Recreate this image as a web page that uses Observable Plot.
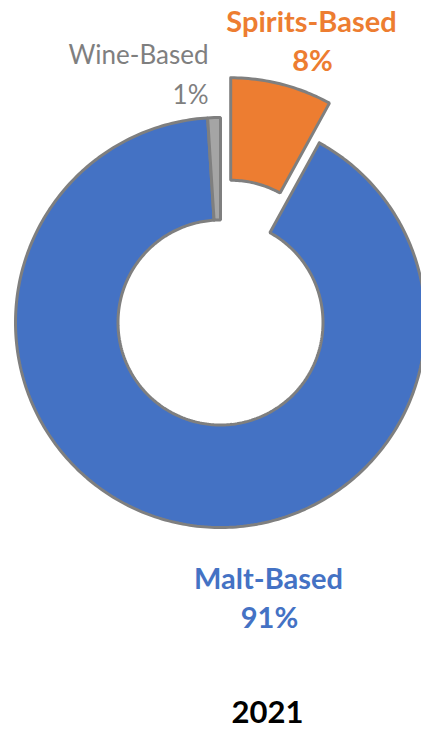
<!DOCTYPE html>
<html>
<head>
<meta charset="utf-8">
<script src="https://cdn.jsdelivr.net/npm/d3@7"></script>
<script src="https://cdn.jsdelivr.net/npm/@observablehq/plot@0.6"></script>
<style>
  html, body { margin: 0; padding: 0; background: #fff; }
  #chart svg { display: block; }
</style>
</head>
<body>
<div id="chart"></div>
<script>
// ---- data ----
const categories = ["Spirits-Based", "Malt-Based", "Wine-Based"];
const shares = [8, 91, 1];            // percent
const exploded = [true, false, false];
const year = "2021";

// ---- styling ----
const colors = ["#ED7D31", "#4472C4", "#A5A5A5"];
const labelColors = ["#ED7D31", "#4472C4", "#7F7F7F"];
const W = 421, H = 731;
const cxPx = 220, cyPx = 322, Rpx = 205;   // layout of the ring in pixels
const inner = 0.5, explode = 0.2;

// build slice polygons in unit (radius = 1) coordinates
const total = d3.sum(shares);
let start = 0;
const pts = [];
categories.forEach((c, i) => {
  const a0 = start / total * 2 * Math.PI;
  const a1 = (start + shares[i]) / total * 2 * Math.PI;
  start += shares[i];
  const mid = (a0 + a1) / 2;
  const ox = exploded[i] ? explode * Math.sin(mid) : 0;
  const oy = exploded[i] ? explode * Math.cos(mid) : 0;
  const n = Math.max(4, Math.ceil((a1 - a0) / (Math.PI / 180)));
  const poly = [];
  for (let k = 0; k <= n; k++) {
    const a = a0 + (a1 - a0) * k / n;
    poly.push([Math.sin(a), Math.cos(a)]);
  }
  for (let k = n; k >= 0; k--) {
    const a = a0 + (a1 - a0) * k / n;
    poly.push([inner * Math.sin(a), inner * Math.cos(a)]);
  }
  poly.push(poly[0]);
  poly.forEach(([x, y]) => pts.push({cat: c, x: x + ox, y: y + oy, i}));
});

const px = (p) => (p - cxPx) / Rpx;
const py = (p) => (cyPx - p) / Rpx;

// baselines (pixel) for labels
const labels = [
  {t: categories[0], x: px(311), y: py(31), c: labelColors[0], w: "bold", a: "middle", s: 29},
  {t: shares[0] + "%", x: px(312), y: py(70), c: labelColors[0], w: "bold", a: "middle", s: 29},
  {t: categories[2], x: px(208), y: py(63), c: labelColors[2], w: "normal", a: "end", s: 26},
  {t: shares[2] + "%", x: px(208), y: py(103), c: labelColors[2], w: "normal", a: "end", s: 26},
  {t: categories[1], x: px(268), y: py(588), c: labelColors[1], w: "bold", a: "middle", s: 29},
  {t: shares[1] + "%", x: px(269), y: py(627), c: labelColors[1], w: "bold", a: "middle", s: 29},
  {t: year, x: px(267), y: py(722), c: "#000000", w: "bold", a: "middle", s: 31}
];

const chart = Plot.plot({
  width: W,
  height: H,
  margin: 0,
  style: {fontFamily: "Lato, 'Open Sans', sans-serif", background: "#fff"},
  x: {domain: [px(0), px(W)], axis: null},
  y: {domain: [py(H), py(0)], axis: null},
  color: {domain: categories, range: colors},
  marks: [
    Plot.line(pts, {
      x: "x", y: "y", z: "cat",
      fill: "cat", stroke: "#7F7F7F", strokeWidth: 3,
      strokeLinejoin: "miter", curve: "linear"
    }),
    ...labels.map(l => Plot.text([l], {
      x: "x", y: "y", text: "t",
      fill: l.c, fontWeight: l.w, textAnchor: l.a, fontSize: l.s,
      lineAnchor: "bottom"
    }))
  ]
});
document.getElementById("chart").appendChild(chart);
</script>
</body>
</html>
